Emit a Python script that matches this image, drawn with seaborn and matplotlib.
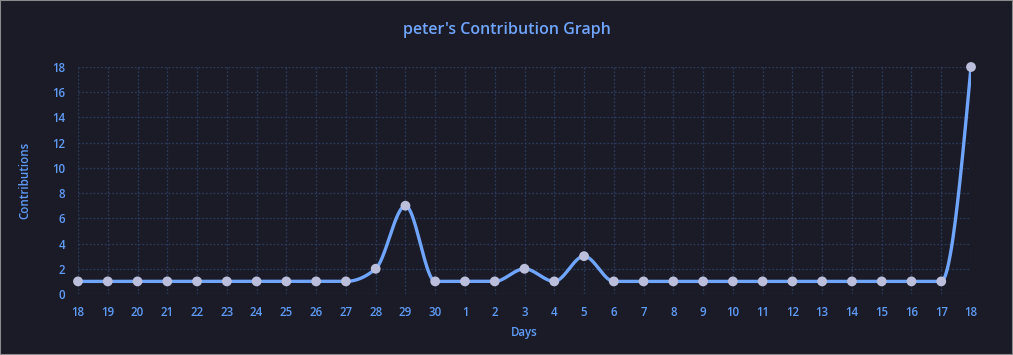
import numpy as np
import pandas as pd
import matplotlib
matplotlib.use("Agg")
import matplotlib.pyplot as plt
import seaborn as sns

days = ["18", "19", "20", "21", "22", "23", "24", "25", "26", "27", "28", "29", "30",
        "1", "2", "3", "4", "5", "6", "7", "8", "9", "10", "11", "12", "13", "14",
        "15", "16", "17", "18"]
contributions = [1, 1, 1, 1, 1, 1, 1, 1, 1, 1, 2, 7, 1,
                 1, 1, 2, 1, 3, 1, 1, 1, 1, 1, 1, 1, 1, 1,
                 1, 1, 1, 18]
y_ticks = [0, 2, 4, 6, 8, 10, 12, 14, 16, 18]

BG = "#1a1b27"
LINE = "#70a5fd"
POINT = "#bcbfdb"
TEXT = "#5f9cf8"
GRID = "#2b3b5c"


def monotone_curve(y, steps=40):
    # monotone cubic (d3 curveMonotoneX style) on unit spacing, for drawing only
    y = np.asarray(y, dtype=float)
    n = len(y)
    d = np.diff(y)
    t = np.zeros(n)
    for i in range(1, n - 1):
        s0, s1 = d[i - 1], d[i]
        p = (s0 + s1) / 2
        t[i] = (np.sign(s0) + np.sign(s1)) * min(abs(s0), abs(s1), 0.5 * abs(p))
    t[0] = (3 * d[0] - t[1]) / 2
    t[-1] = (3 * d[-1] - t[-2]) / 2
    xs, ys = [], []
    u = np.linspace(0, 1, steps, endpoint=False)
    for i in range(n - 1):
        h00 = 2 * u**3 - 3 * u**2 + 1
        h10 = u**3 - 2 * u**2 + u
        h01 = -2 * u**3 + 3 * u**2
        h11 = u**3 - u**2
        xs.append(i + u)
        ys.append(h00 * y[i] + h10 * t[i] + h01 * y[i + 1] + h11 * t[i + 1])
    xs.append([n - 1])
    ys.append([y[-1]])
    return np.concatenate(xs), np.concatenate(ys)


sns.set_theme(style="dark")
plt.rcParams["font.family"] = ["Open Sans", "DejaVu Sans"]

df = pd.DataFrame({"pos": np.arange(len(days)), "count": contributions})
cx, cy = monotone_curve(contributions)
curve = pd.DataFrame({"pos": cx, "count": cy})

fig = plt.figure(figsize=(10.13, 3.55), dpi=100, facecolor=BG)
ax = fig.add_axes([78 / 1013, 61 / 355, 893 / 1013, 227 / 355])
ax.set_facecolor(BG)

sns.lineplot(data=curve, x="pos", y="count", ax=ax, color=LINE, linewidth=2.4,
             estimator=None, sort=False, zorder=3)
sns.scatterplot(data=df, x="pos", y="count", ax=ax, color=POINT, s=50,
                edgecolor="none", zorder=4, clip_on=False)

ax.set_xlim(0, len(days) - 1)
ax.set_ylim(0, 18)
ax.set_xticks(df["pos"])
ax.set_xticklabels(days)
ax.set_yticks(y_ticks)
ax.grid(True, color=GRID, linestyle=(0, (1.5, 1.5)), linewidth=0.9)
ax.tick_params(axis="both", length=0, colors=TEXT, labelsize=8.3)
ax.tick_params(axis="x", pad=9)
ax.tick_params(axis="y", pad=9)
for lab in ax.get_xticklabels() + ax.get_yticklabels():
    lab.set_fontweight("semibold")
for s in ax.spines.values():
    s.set_visible(False)

ax.set_xlabel("Days", color=TEXT, fontsize=8.3, labelpad=5, fontweight="semibold")
ax.set_ylabel("Contributions", color=TEXT, fontsize=8.3, labelpad=15,
              fontweight="semibold")
fig.text(0.5, 0.915, "peter's Contribution Graph", ha="center", va="center",
         color=LINE, fontsize=11.5, fontweight="semibold")

fig.patches.append(plt.Rectangle((0, 0), 1, 1, transform=fig.transFigure,
                                 fill=False, edgecolor="#8a8a8a", linewidth=1.5))

fig.savefig("out.png", dpi=100, facecolor=BG)
